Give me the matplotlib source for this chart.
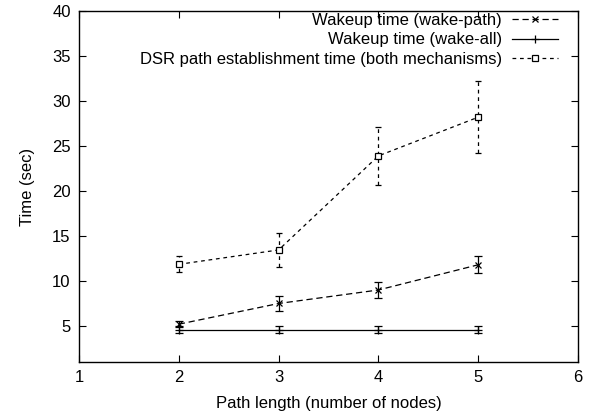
import matplotlib
matplotlib.use("Agg")
import matplotlib.pyplot as plt

plt.rcParams["font.family"] = ["Liberation Sans", "DejaVu Sans"]
plt.rcParams["font.size"] = 12

path_len = [2, 3, 4, 5]

wake_path = [5.2, 7.5, 9.0, 11.8]
wake_path_err = [0.3, 0.8, 0.85, 0.95]

wake_all = [4.6, 4.6, 4.6, 4.6]
wake_all_err = [0.35, 0.35, 0.35, 0.35]

dsr = [11.85, 13.45, 23.9, 28.2]
dsr_err = [0.9, 1.85, 3.2, 4.0]

fig = plt.figure(figsize=(5.95, 4.18), dpi=100)
ax = fig.add_axes([0.1328, 0.134, 0.8386, 0.8397])

e1 = ax.errorbar(path_len, wake_path, yerr=wake_path_err, color="black", lw=0.9,
                 ls=(0, (5, 3)), marker="x", ms=4, mew=0.9, capsize=3, elinewidth=0.9)
e2 = ax.errorbar(path_len, wake_all, yerr=wake_all_err, color="black", lw=0.9,
                 ls="-", marker="+", ms=6, mew=0.9, capsize=3, elinewidth=0.9)
e3 = ax.errorbar(path_len, dsr, yerr=dsr_err, color="black", lw=0.9,
                 ls=(0, (3, 3)), marker="s", ms=5, mfc="white", mew=0.9,
                 capsize=2, elinewidth=0.9)
for c in e3[2]:
    c.set_linestyle((0, (3, 3)))

ax.set_xlim(1, 6)
ax.set_ylim(1, 40)
ax.set_xticks([1, 2, 3, 4, 5, 6])
ax.set_yticks([5, 10, 15, 20, 25, 30, 35, 40])
ax.tick_params(direction="in", top=True, right=True, length=5, width=0.8, pad=6)
for s in ax.spines.values():
    s.set_linewidth(1.0)

ax.set_xlabel("Path length (number of nodes)", labelpad=8)
ax.set_ylabel("Time (sec)", labelpad=12)

ax.legend([e1[0], e2[0], e3[0]],
          ["Wakeup time (wake-path)", "Wakeup time (wake-all)",
           "DSR path establishment time (both mechanisms)"],
          loc="upper right", bbox_to_anchor=(0.96, 0.995), frameon=False,
          markerfirst=False, handlelength=2.75, labelspacing=0.28,
          borderaxespad=0, borderpad=0, handletextpad=0.6)

fig.savefig("out.png", dpi=100)
